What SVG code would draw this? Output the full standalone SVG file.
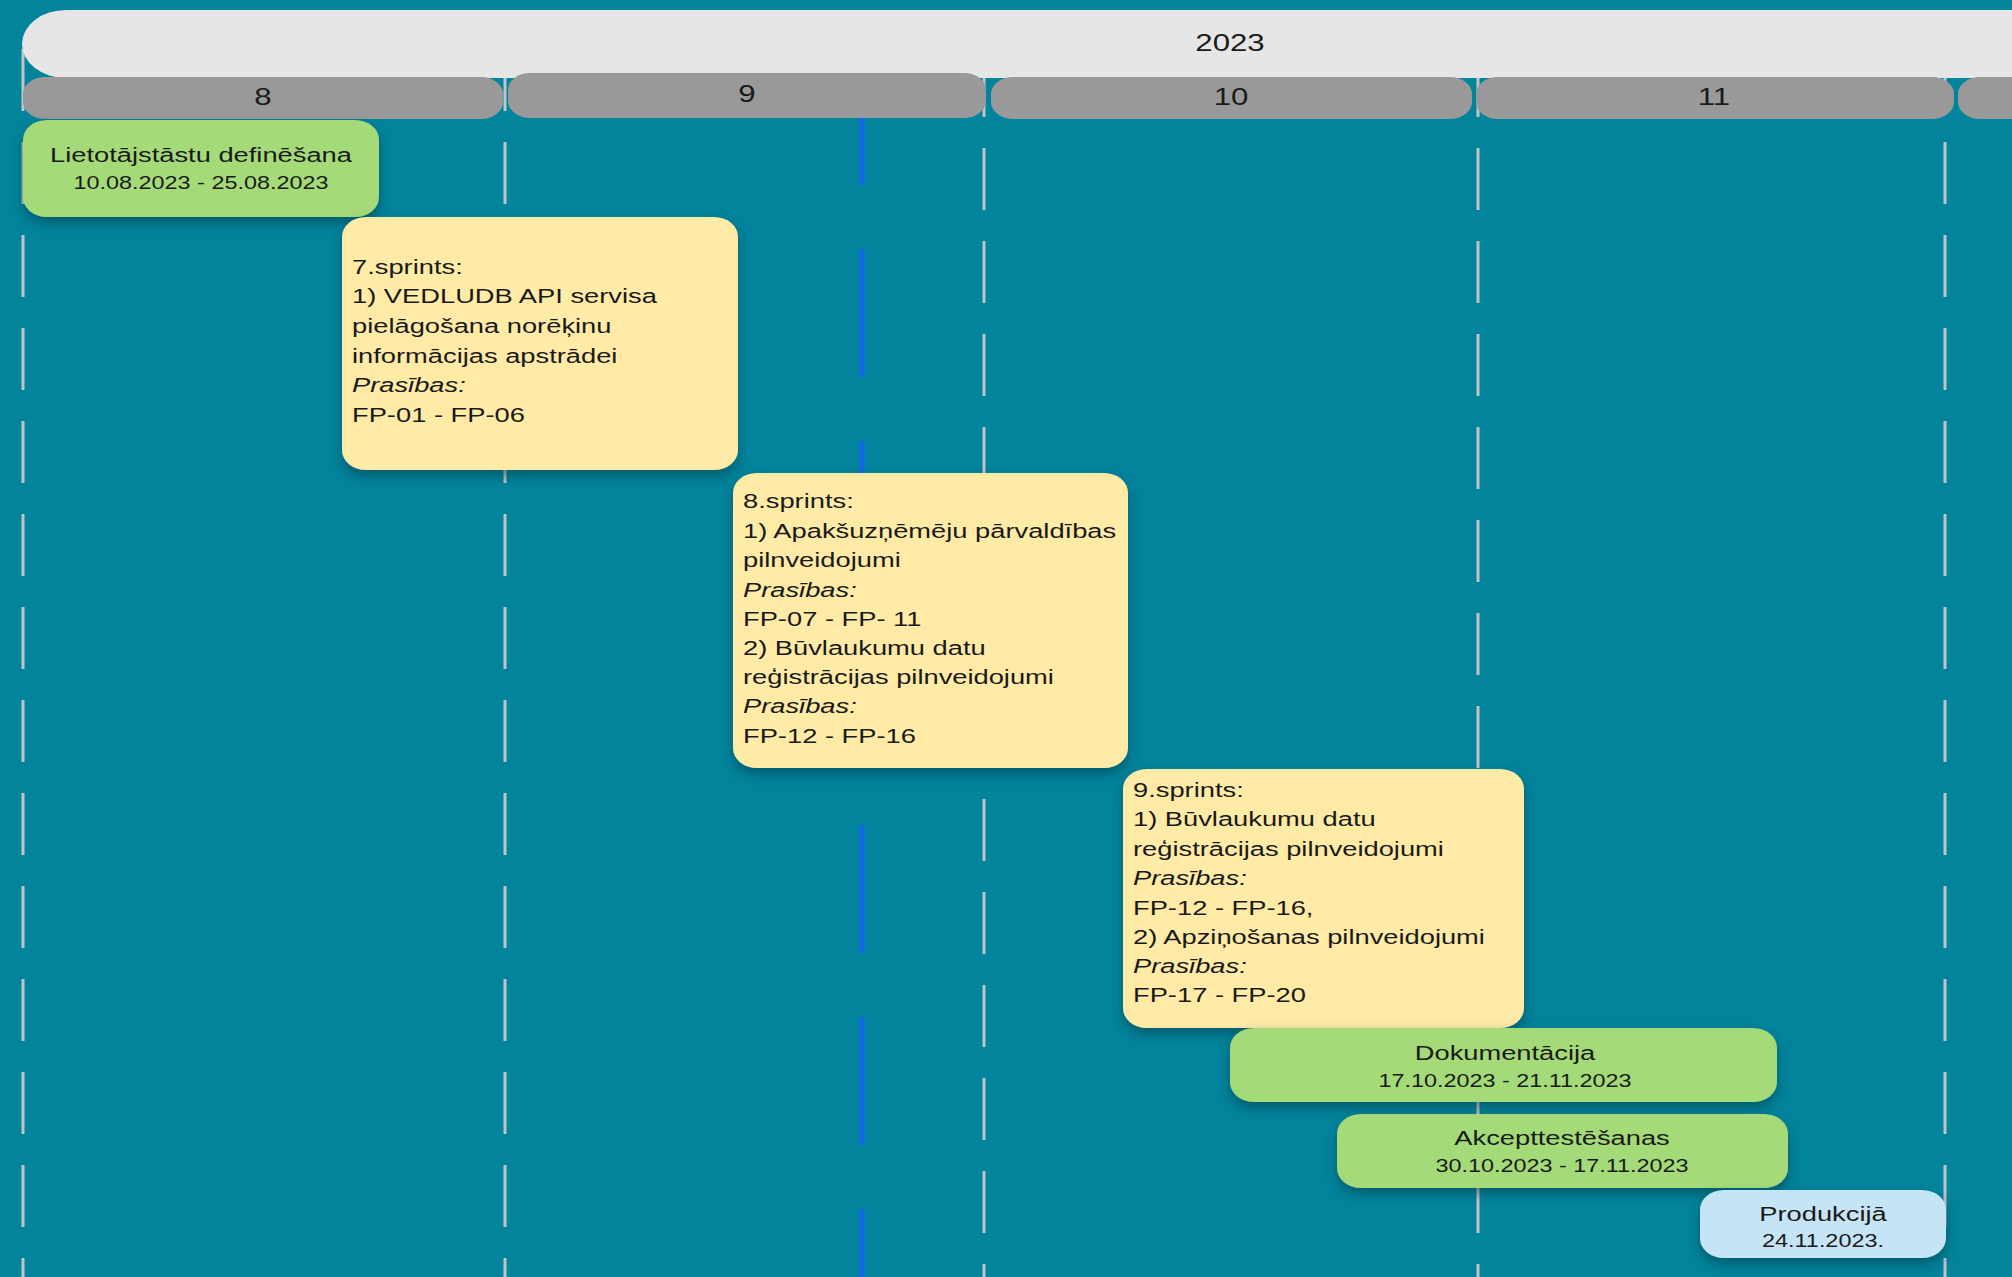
<svg xmlns="http://www.w3.org/2000/svg" width="2012" height="1277" viewBox="0 0 2012 1277">
<defs>
<filter id="sh" x="-15%" y="-15%" width="130%" height="140%">
<feDropShadow dx="0" dy="6" stdDeviation="6" flood-color="#00303c" flood-opacity="0.5"/>
</filter>
<style>
.t{font-family:"Liberation Sans",Arial,sans-serif;fill:#1a1a1a}
.hdr{font-size:24px;text-anchor:middle}
.ttl{font-size:21px;text-anchor:middle}
.dt{font-size:18px;text-anchor:middle}
.sp{font-size:21px}
.it{font-style:italic}
.grid{stroke:#c4c4c4;stroke-width:3;stroke-dasharray:62 31;fill:none}
.today{stroke:#1466e6;stroke-width:5;stroke-dasharray:128 64;fill:none}
.green{fill:#a4da78;filter:url(#sh)}
.yellow{fill:#ffeaa6;filter:url(#sh)}
.blue{fill:#c5e4f6;filter:url(#sh)}
.month{fill:#999999}
</style>
</defs>
<rect width="2012" height="1277" fill="#02849c"/>
<g id="connectors">
<line class="grid" x1="23" y1="49" x2="23" y2="1277"/>
<line class="grid" x1="505" y1="49" x2="505" y2="1277"/>
<line class="grid" x1="984" y1="55" x2="984" y2="1277"/>
<line class="grid" x1="1478" y1="55" x2="1478" y2="1277"/>
<line class="grid" x1="1945" y1="49" x2="1945" y2="1277"/>
<line class="today" x1="862" y1="57" x2="862" y2="1277"/>
</g>
<g id="year">
<rect x="22" y="10" width="2100" height="68" rx="44" ry="34" fill="#e6e6e6"/>
<text class="t hdr" transform="translate(1230 0) scale(1.3 1)" x="0" y="51">2023</text>
</g>
<g id="month-8">
<rect class="month" x="23" y="77" width="480" height="42" rx="22" ry="17"/>
<text class="t hdr" transform="translate(263 0) scale(1.3 1)" x="0" y="105">8</text>
</g>
<g id="month-9">
<rect class="month" x="508" y="73" width="478" height="45" rx="22" ry="17"/>
<text class="t hdr" transform="translate(747 0) scale(1.3 1)" x="0" y="102">9</text>
</g>
<g id="month-10">
<rect class="month" x="991" y="77" width="481" height="42" rx="22" ry="17"/>
<text class="t hdr" transform="translate(1231 0) scale(1.3 1)" x="0" y="105">10</text>
</g>
<g id="month-11">
<rect class="month" x="1476" y="77" width="478" height="42" rx="22" ry="17"/>
<text class="t hdr" transform="translate(1714 0) scale(1.3 1)" x="0" y="105">11</text>
</g>
<g id="month-12">
<rect class="month" x="1958" y="77" width="120" height="42" rx="22" ry="17"/>
</g>
<g id="node-lietotajstasti">
<rect class="green" x="23" y="120" width="356" height="97" rx="24" ry="20"/>
<text class="t ttl" transform="translate(201 0) scale(1.3 1)" x="0" y="162">Lietotājstāstu definēšana</text>
<text class="t dt" transform="translate(201 0) scale(1.3 1)" x="0" y="189">10.08.2023 - 25.08.2023</text>
</g>
<g id="node-sprint7">
<rect class="yellow" x="342" y="217" width="396" height="253" rx="24" ry="20"/>
<text class="t sp" transform="translate(352 0) scale(1.3 1)">
<tspan x="0" y="274">7.sprints:</tspan>
<tspan x="0" y="303">1) VEDLUDB API servisa</tspan>
<tspan x="0" y="333">pielāgošana norēķinu</tspan>
<tspan x="0" y="363">informācijas apstrādei</tspan>
<tspan x="0" y="392" class="it">Prasības:</tspan>
<tspan x="0" y="422">FP-01 - FP-06</tspan>
</text>
</g>
<g id="node-sprint8">
<rect class="yellow" x="733" y="473" width="395" height="295" rx="24" ry="20"/>
<text class="t sp" transform="translate(743 0) scale(1.3 1)">
<tspan x="0" y="508">8.sprints:</tspan>
<tspan x="0" y="538">1) Apakšuzņēmēju pārvaldības</tspan>
<tspan x="0" y="567">pilnveidojumi</tspan>
<tspan x="0" y="597" class="it">Prasības:</tspan>
<tspan x="0" y="626">FP-07 - FP- 11</tspan>
<tspan x="0" y="655">2) Būvlaukumu datu</tspan>
<tspan x="0" y="684">reģistrācijas pilnveidojumi</tspan>
<tspan x="0" y="713" class="it">Prasības:</tspan>
<tspan x="0" y="743">FP-12 - FP-16</tspan>
</text>
</g>
<g id="node-sprint9">
<rect class="yellow" x="1123" y="769" width="401" height="259" rx="24" ry="20"/>
<text class="t sp" transform="translate(1133 0) scale(1.3 1)">
<tspan x="0" y="797">9.sprints:</tspan>
<tspan x="0" y="826">1) Būvlaukumu datu</tspan>
<tspan x="0" y="856">reģistrācijas pilnveidojumi</tspan>
<tspan x="0" y="885" class="it">Prasības:</tspan>
<tspan x="0" y="915">FP-12 - FP-16,</tspan>
<tspan x="0" y="944">2) Apziņošanas pilnveidojumi</tspan>
<tspan x="0" y="973" class="it">Prasības:</tspan>
<tspan x="0" y="1002">FP-17 - FP-20</tspan>
</text>
</g>
<g id="node-dokumentacija">
<rect class="green" x="1230" y="1028" width="547" height="74" rx="24" ry="20"/>
<text class="t ttl" transform="translate(1505 0) scale(1.3 1)" x="0" y="1060">Dokumentācija</text>
<text class="t dt" transform="translate(1505 0) scale(1.3 1)" x="0" y="1087">17.10.2023 - 21.11.2023</text>
</g>
<g id="node-akcepttestesana">
<rect class="green" x="1337" y="1114" width="451" height="74" rx="24" ry="20"/>
<text class="t ttl" transform="translate(1562 0) scale(1.3 1)" x="0" y="1145">Akcepttestēšanas</text>
<text class="t dt" transform="translate(1562 0) scale(1.3 1)" x="0" y="1172">30.10.2023 - 17.11.2023</text>
</g>
<g id="node-produkcija">
<rect class="blue" x="1700" y="1190" width="246" height="68" rx="24" ry="20"/>
<text class="t ttl" transform="translate(1823 0) scale(1.3 1)" x="0" y="1221">Produkcijā</text>
<text class="t dt" transform="translate(1823 0) scale(1.3 1)" x="0" y="1247">24.11.2023.</text>
</g>
</svg>
